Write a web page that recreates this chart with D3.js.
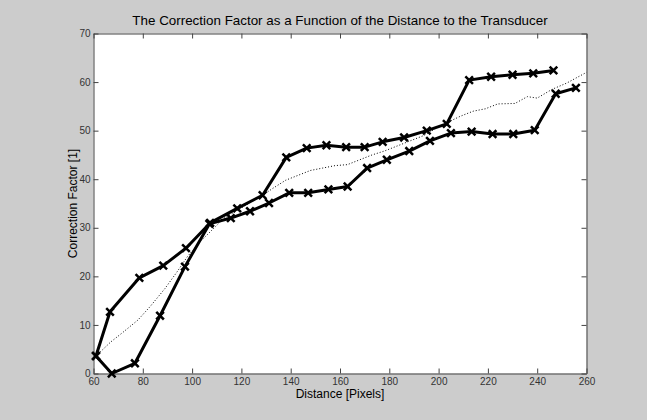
<!DOCTYPE html>
<html>
<head>
<meta charset="utf-8">
<script src="https://cdn.jsdelivr.net/npm/d3@7"></script>
<style>
  body { margin: 0; background: #cccccc; }
  svg { display: block; }
  .axis text { font-family: "Liberation Sans", Arial, sans-serif; font-size: 10px; fill: #333; }
  .axis path, .axis line { stroke: #444; }
</style>
</head>
<body>
<div id="chart"></div>
<script>
// upper branch (distance, correction factor)
var upperX = [61, 66.7, 78.6, 88.3, 97.5, 107.3, 118.3, 128.6, 138.2, 146.5, 154.5, 162.5, 170, 177.3, 186, 195.2, 203.3, 212.4, 221.3, 230, 238.4, 246.6];
var upperY = [3.6, 12.7, 19.7, 22.2, 25.8, 31.0, 34.0, 36.7, 44.5, 46.4, 47.0, 46.6, 46.6, 47.7, 48.6, 50.0, 51.4, 60.4, 61.1, 61.5, 61.8, 62.4];

// lower branch
var lowerX = [61, 67.4, 76.8, 87, 97.1, 107, 115.7, 123.5, 131.2, 139.4, 147.1, 155.3, 163.1, 171, 179, 188.1, 196.5, 205, 213.4, 221.9, 230.3, 239, 247.5, 255.7];
var lowerY = [3.6, 0, 2.1, 11.9, 22.0, 30.8, 32.0, 33.4, 35.1, 37.2, 37.2, 37.9, 38.5, 42.3, 44.0, 45.8, 47.9, 49.5, 49.8, 49.3, 49.3, 50.1, 57.6, 58.8];

// dotted mean curve
var meanX = [61, 67, 72, 78, 83, 89, 94, 98, 103, 108, 113, 118, 123, 128, 133, 138, 143, 148, 153, 158, 163, 168, 173, 178, 183, 189, 194, 199, 204, 209, 214, 219, 224, 231, 236, 240, 246, 252, 260];
var meanY = [3.6, 6.5, 8.5, 11, 13.8, 17.5, 21, 24, 27, 29.5, 32, 33.5, 35, 36.5, 38.2, 39.8, 40.8, 41.8, 42.3, 42.8, 43, 44, 45, 45.8, 46.8, 48, 49, 50.5, 51.8, 53, 54, 54.5, 55.5, 55.6, 57, 56.7, 58.5, 59.8, 62];

var xTicks = [60, 80, 100, 120, 140, 160, 180, 200, 220, 240, 260];
var yTicks = [0, 10, 20, 30, 40, 50, 60, 70];

var w = 647, h = 420;
var axL = 93.5, axR = 586.5, axT = 33.5, axB = 373.5;

var svg = d3.select("#chart").append("svg")
  .attr("width", w)
  .attr("height", h);

svg.append("rect")
  .attr("width", w).attr("height", h)
  .attr("fill", "#cccccc");

svg.append("rect")
  .attr("x", axL).attr("y", axT)
  .attr("width", axR - axL).attr("height", axB - axT)
  .attr("fill", "#ffffff");

var x = d3.scaleLinear().domain([60, 260]).range([axL, axR]);
var y = d3.scaleLinear().domain([0, 70]).range([axB, axT]);

// axes, ticks pointing inward like matlab
svg.append("g")
  .attr("class", "axis")
  .attr("transform", "translate(0," + axB + ")")
  .call(d3.axisBottom(x).tickValues(xTicks).tickSizeInner(-5).tickSizeOuter(0).tickPadding(4));

svg.append("g")
  .attr("class", "axis")
  .attr("transform", "translate(" + axL + ",0)")
  .call(d3.axisLeft(y).tickValues(yTicks).tickSizeInner(-5).tickSizeOuter(0).tickPadding(3));

svg.append("g")
  .attr("class", "axis")
  .attr("transform", "translate(0," + axT + ")")
  .call(d3.axisTop(x).tickValues(xTicks).tickSizeInner(-5).tickSizeOuter(0).tickFormat(""));

svg.append("g")
  .attr("class", "axis")
  .attr("transform", "translate(" + axR + ",0)")
  .call(d3.axisRight(y).tickValues(yTicks).tickSizeInner(-5).tickSizeOuter(0).tickFormat(""));

var line = d3.line()
  .x(function(d) { return x(d[0]); })
  .y(function(d) { return y(d[1]); });

var mean = d3.zip(meanX, meanY);
var upper = d3.zip(upperX, upperY);
var lower = d3.zip(lowerX, lowerY);

svg.append("path")
  .datum(mean)
  .attr("d", line)
  .attr("fill", "none")
  .attr("stroke", "#000")
  .attr("stroke-width", 1)
  .attr("stroke-dasharray", "1,2");

[upper, lower].forEach(function(series) {
  svg.append("path")
    .datum(series)
    .attr("d", line)
    .attr("fill", "none")
    .attr("stroke", "#000")
    .attr("stroke-width", 3)
    .attr("stroke-linejoin", "round");

  var m = 3.8;
  svg.append("g").selectAll("path")
    .data(series)
    .enter()
    .append("path")
    .attr("d", function(d) {
      var cx = x(d[0]), cy = y(d[1]);
      return "M" + (cx - m) + "," + (cy - m) + "L" + (cx + m) + "," + (cy + m) +
             "M" + (cx - m) + "," + (cy + m) + "L" + (cx + m) + "," + (cy - m);
    })
    .attr("stroke", "#000")
    .attr("stroke-width", 2.5);
});

// title and labels
svg.append("text")
  .attr("x", (axL + axR) / 2)
  .attr("y", 25)
  .attr("text-anchor", "middle")
  .style("font-family", "Liberation Sans, Arial, sans-serif")
  .style("font-size", "13.4px")
  .text("The Correction Factor as a Function of the Distance to the Transducer");

svg.append("text")
  .attr("x", (axL + axR) / 2)
  .attr("y", 398)
  .attr("text-anchor", "middle")
  .style("font-family", "Liberation Sans, Arial, sans-serif")
  .style("font-size", "12px")
  .text("Distance [Pixels]");

svg.append("text")
  .attr("transform", "translate(77," + ((axT + axB) / 2) + ") rotate(-90)")
  .attr("text-anchor", "middle")
  .style("font-family", "Liberation Sans, Arial, sans-serif")
  .style("font-size", "12px")
  .text("Correction Factor [1]");
</script>
</body>
</html>
